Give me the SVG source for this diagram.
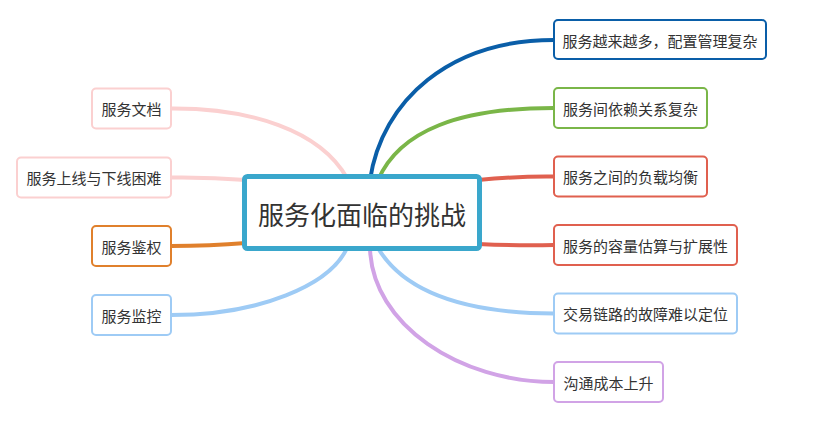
<svg xmlns="http://www.w3.org/2000/svg" width="819" height="426" viewBox="0 0 819 426">
<style>
.c{fill:none;stroke-width:4;stroke-linecap:round}
.n{fill:#fff;stroke-width:2}
.t{font-family:"Noto Sans CJK SC","Microsoft YaHei",sans-serif;font-size:15px;fill:#333;text-anchor:middle;dominant-baseline:central}
.m{font-family:"Noto Sans CJK SC","Microsoft YaHei",sans-serif;font-size:26px;fill:#333;text-anchor:middle;dominant-baseline:central}
</style>
<rect width="819" height="426" fill="#fff"/>
<g id="connectors">
<path class="c" stroke="#0a5ea8" d="M370,180 C382,100 450,40 554,40"/>
<path class="c" stroke="#7ab648" d="M378,180 C400,130 460,108 554,108"/>
<path class="c" stroke="#e0604f" d="M478,180 Q520,176 554,176.5"/>
<path class="c" stroke="#e0604f" d="M478,244 Q520,246 554,245"/>
<path class="c" stroke="#9ecbf5" d="M378,248 C400,285 450,313 554,313.5"/>
<path class="c" stroke="#d1a3e6" d="M370,248 C372,325 460,382 554,382"/>
<path class="c" stroke="#fbd0d0" d="M347,178 C320,130 250,108 171,108.5"/>
<path class="c" stroke="#fbd0d0" d="M246,180 Q210,177 171,177.5"/>
<path class="c" stroke="#e0802c" d="M246,243 Q210,246 171,246"/>
<path class="c" stroke="#9ecbf5" d="M347,248 C330,285 260,315 171,315"/>
</g>
<g id="center">
<rect x="244.5" y="176.5" width="235" height="72" rx="3" fill="#fff" stroke="#3aa7cc" stroke-width="5"/>
<text class="m" x="362" y="213">服务化面临的挑战</text>
</g>
<g id="r1"><rect class="n" x="554" y="20" width="212" height="39" rx="4" stroke="#0a5ea8"/><text class="t" x="660" y="40">服务越来越多，配置管理复杂</text></g>
<g id="r2"><rect class="n" x="554" y="88" width="153" height="40" rx="4" stroke="#7ab648"/><text class="t" x="630.5" y="108">服务间依赖关系复杂</text></g>
<g id="r3"><rect class="n" x="554" y="156.5" width="153" height="40" rx="4" stroke="#e0604f"/><text class="t" x="630.5" y="176.5">服务之间的负载均衡</text></g>
<g id="r4"><rect class="n" x="554" y="225" width="183" height="40" rx="4" stroke="#e0604f"/><text class="t" x="645.5" y="245">服务的容量估算与扩展性</text></g>
<g id="r5"><rect class="n" x="554" y="293.5" width="183" height="40" rx="4" stroke="#9ecbf5"/><text class="t" x="645.5" y="313.5">交易链路的故障难以定位</text></g>
<g id="r6"><rect class="n" x="554" y="362" width="109" height="40" rx="4" stroke="#d1a3e6"/><text class="t" x="608.5" y="382">沟通成本上升</text></g>
<g id="l1"><rect class="n" x="92" y="88.5" width="79" height="40" rx="4" stroke="#fbd0d0"/><text class="t" x="131.5" y="108.5">服务文档</text></g>
<g id="l2"><rect class="n" x="17" y="157.5" width="154" height="40" rx="4" stroke="#fbd0d0"/><text class="t" x="94" y="177.5">服务上线与下线困难</text></g>
<g id="l3"><rect class="n" x="92" y="226" width="79" height="40" rx="4" stroke="#e0802c"/><text class="t" x="131.5" y="246">服务鉴权</text></g>
<g id="l4"><rect class="n" x="92" y="295" width="79" height="40" rx="4" stroke="#9ecbf5"/><text class="t" x="131.5" y="315">服务监控</text></g>
</svg>
